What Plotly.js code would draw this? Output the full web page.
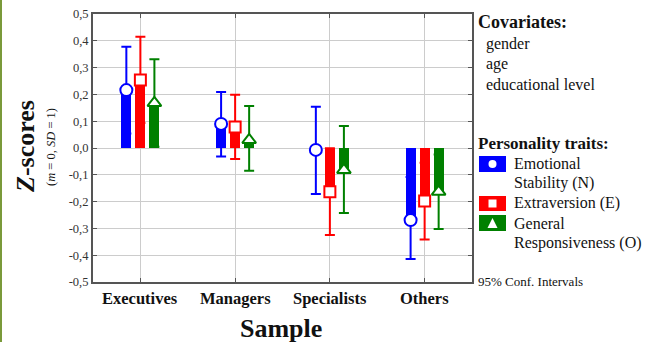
<!DOCTYPE html>
<html><head><meta charset="utf-8">
<script src="https://cdn.plot.ly/plotly-3.0.1.min.js"></script>
<style>body{margin:0;background:#fff}#c{width:659px;height:342px}</style>
</head><body><div id="c"></div>
<script>
const categories = ["Executives","Managers","Specialists","Others"];
const traitNames = ["Emotional Stability (N)","Extraversion (E)","General Responsiveness (O)"];
// means
const meanN = [0.216, 0.090, -0.007, -0.269];
const meanE = [0.254, 0.078, -0.163, -0.198];
const meanO = [0.168, 0.030, -0.082, -0.163];
// 95% CI upper / lower
const hiN = [0.378, 0.209, 0.154, -0.108];
const loN = [0.054, -0.032, -0.172, -0.414];
const hiE = [0.415, 0.199, -0.001, -0.055];
const loE = [0.093, -0.041, -0.325, -0.341];
const hiO = [0.331, 0.157, 0.082, -0.024];
const loO = [0.005, -0.085, -0.243, -0.302];
const yTicks = [-0.5,-0.4,-0.3,-0.2,-0.1,0,0.1,0.2,0.3,0.4,0.5];
const yTickText = ["-0,5","-0,4","-0,3","-0,2","-0,1","0,0","0,1","0,2","0,3","0,4","0,5"];

const colors = ["#0000ff","#ff0000","#008000"];
const symbols = ["circle","square","triangle-up"];
const msize = [12,11,12];
const means = [meanN, meanE, meanO];
const his = [hiN, hiE, hiO];
const los = [loN, loE, loO];
const offs = [-0.148, 0, 0.148];
const bw = 0.106;

const traces = [];
means.forEach((m, k) => {
  const xs = categories.map((c, i) => i + offs[k]);
  traces.push({type:"bar", x: xs, y: m, base: 0, width: bw,
    marker:{color: colors[k], line:{width:0}}, hoverinfo:"skip", showlegend:false});
});
means.forEach((m, k) => {
  const xs = categories.map((c, i) => i + offs[k]);
  traces.push({type:"scatter", mode:"markers", x: xs, y: m, showlegend:false,
    marker:{symbol: symbols[k], size: msize[k], color:"#ffffff", line:{color: colors[k], width:2}},
    error_y:{type:"data", symmetric:false,
      array: m.map((v,i)=>his[k][i]-v), arrayminus: m.map((v,i)=>v-los[k][i]),
      color: colors[k], thickness:2, width:5}});
});

// layout helpers (pixel -> paper)
const L=93, R=472, T=14, B=282;
const px = x => (x-L)/(R-L);
const py = y => (B-y)/(B-T);

const ann = [];
const shapes = [];
const serif = "'Liberation Serif', 'Times New Roman', serif";
function txt(x,y,text,size,opts){
  ann.push(Object.assign({xref:"paper",yref:"paper",x:px(x),y:py(y),text:text,showarrow:false,
    xanchor:"left",yanchor:"middle",font:{family:serif,size:size,color:"#111"}},opts||{}));
}
txt(476,22,"<b>Covariates:</b>",18);
txt(484,44,"gender",16);
txt(484,64,"age",16);
txt(484,84,"educational level",16);
txt(476,143,"<b>Personality traits:</b>",17);
txt(512,163,"Emotional",16);
txt(512,183,"Stability (N)",16);
txt(512,203,"Extraversion (E)",16);
txt(512,223,"General",16);
txt(512,243,"Responsiveness (O)",16);
txt(476,281,"95% Conf. Intervals",13);
// category labels
categories.forEach((c,i)=>{
  ann.push({xref:"x",yref:"paper",x:i,y:py(298),text:"<b>"+c+"</b>",showarrow:false,
    xanchor:"center",yanchor:"middle",font:{family:serif,size:16.5,color:"#111"}});
});
txt(281,328,"<b>Sample</b>",26,{xanchor:"center"});
txt(25,147,"<b><i>Z</i>-scores</b>",26,{xanchor:"center",textangle:-90});
txt(51,147,"(<i>m</i> = 0, <i>SD</i> = 1)",12.5,{xanchor:"center",textangle:-90});

// legend boxes
const boxY = [[156,172],[196,211],[215,231]];
boxY.forEach((b,k)=>{
  shapes.push({type:"rect",xref:"paper",yref:"paper",x0:px(479),x1:px(506),y0:py(b[1]),y1:py(b[0]),
    fillcolor:colors[k],line:{width:0}});
});
const cy0=(boxY[0][0]+boxY[0][1])/2, cy1=(boxY[1][0]+boxY[1][1])/2, cy2=(boxY[2][0]+boxY[2][1])/2;
shapes.push({type:"circle",xref:"paper",yref:"paper",x0:px(488.5),x1:px(496.5),y0:py(cy0+4),y1:py(cy0-4),fillcolor:"#fff",line:{width:0}});
shapes.push({type:"rect",xref:"paper",yref:"paper",x0:px(488.5),x1:px(496.5),y0:py(cy1+4),y1:py(cy1-4),fillcolor:"#fff",line:{width:0}});
shapes.push({type:"path",xref:"paper",yref:"paper",
  path:`M ${px(487.5)} ${py(cy2+5)} L ${px(497.5)} ${py(cy2+5)} L ${px(492.5)} ${py(cy2-5)} Z`,
  fillcolor:"#fff",line:{width:0}});
// green left border
shapes.push({type:"rect",xref:"paper",yref:"paper",x0:px(0),x1:px(2),y0:py(342),y1:py(0),fillcolor:"#7a9a3a",line:{width:0},layer:"below"});

const layout = {
  width:659, height:342, margin:{l:L,r:659-R,t:T,b:342-B},
  paper_bgcolor:"#fff", plot_bgcolor:"#fff",
  showlegend:false,
  xaxis:{range:[-0.5,3.5], tickvals:[0,1,2,3], ticktext:["","","",""], showgrid:true, gridcolor:"#cccccc", gridwidth:1,
    zeroline:false, showline:true, linecolor:"#555", linewidth:2, mirror:"ticks", ticks:"inside", ticklen:4, tickcolor:"#555", fixedrange:true},
  yaxis:{range:[-0.5,0.5], tickvals:yTicks, ticktext:yTickText, showgrid:true, gridcolor:"#cccccc", gridwidth:1,
    zeroline:false, showline:true, linecolor:"#555", linewidth:2, mirror:"ticks", ticks:"inside", ticklen:4, tickcolor:"#555",
    tickfont:{family:serif,size:12.5,color:"#333"}, fixedrange:true},
  annotations:ann, shapes:shapes, bargap:0
};
Plotly.newPlot("c", traces, layout, {displayModeBar:false, staticPlot:true});
</script></body></html>
